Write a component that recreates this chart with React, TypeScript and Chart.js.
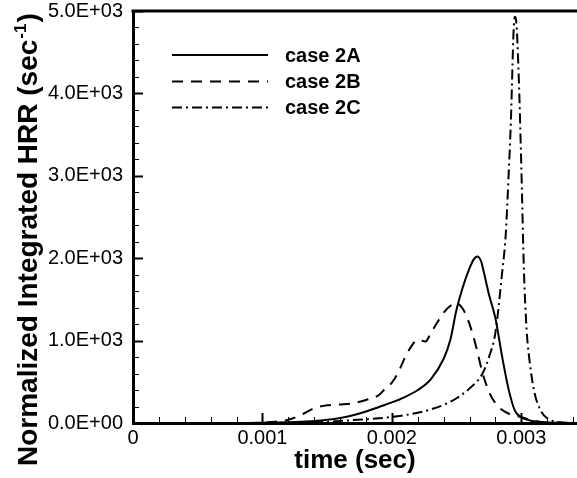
import React, { useEffect, useRef } from "react";
import { Chart, registerables } from "chart.js";

Chart.register(...registerables);

// ---- data ----
const timeA = [0, 0.0008, 0.001, 0.0011, 0.0012, 0.0013, 0.0014, 0.0015, 0.0016, 0.0017, 0.0018, 0.0019, 0.002, 0.0021, 0.0022, 0.0023, 0.0024, 0.00245, 0.0025, 0.00255, 0.0026, 0.00263, 0.00266, 0.00269, 0.0027, 0.00275, 0.0028, 0.00285, 0.0029, 0.00295, 0.003, 0.0031, 0.0032, 0.0033, 0.00343];
const hrrA = [0, 0, 3, 6, 10, 16, 25, 40, 62, 95, 140, 195, 250, 315, 400, 530, 780, 1000, 1380, 1660, 1880, 1980, 2020, 1960, 1900, 1560, 1270, 820, 420, 150, 70, 20, 5, 0, 0];

const timeB = [0, 0.0009, 0.001, 0.0011, 0.0012, 0.0013, 0.0014, 0.0015, 0.0016, 0.0017, 0.0018, 0.0019, 0.00195, 0.002, 0.00205, 0.0021, 0.00215, 0.0022, 0.00226, 0.0023, 0.00235, 0.0024, 0.00245, 0.0025, 0.00255, 0.0026, 0.00265, 0.0027, 0.00275, 0.0028, 0.00285, 0.0029, 0.003, 0.0031, 0.0032, 0.00343];
const hrrB = [0, 0, 5, 15, 40, 100, 180, 215, 225, 240, 280, 340, 420, 490, 620, 790, 930, 1010, 990, 1090, 1220, 1340, 1420, 1455, 1380, 1200, 930, 610, 380, 240, 160, 115, 70, 25, 5, 0];

const timeC = [0, 0.0012, 0.0013, 0.0014, 0.0015, 0.0016, 0.0017, 0.0018, 0.0019, 0.002, 0.0021, 0.0022, 0.0023, 0.0024, 0.0025, 0.0026, 0.0027, 0.00275, 0.0028, 0.00285, 0.00288, 0.0029, 0.00292, 0.00294, 0.00295, 0.00296, 0.00298, 0.003, 0.00302, 0.00304, 0.00306, 0.0031, 0.00315, 0.0032, 0.0033, 0.00343];
const hrrC = [0, 0, 3, 8, 15, 25, 35, 45, 57, 75, 95, 125, 165, 220, 300, 420, 600, 800, 1100, 1800, 2300, 2950, 3700, 4750, 4930, 4880, 4200, 3100, 1850, 1150, 800, 380, 150, 57, 10, 0];

const seriesNames = ["case 2A", "case 2B", "case 2C"];

const xTickValues = [0, 0.001, 0.002, 0.003];
const xTickLabels = ["0", "0.001", "0.002", "0.003"];
const yTickValues = [0, 1000, 2000, 3000, 4000, 5000];
const yTickLabels = ["0.0E+00", "1.0E+03", "2.0E+03", "3.0E+03", "4.0E+03", "5.0E+03"];

const xTitle = "time (sec)";
const yTitleMain = "Normalized Integrated HRR (sec";
const yTitleSup = "-1";
const yTitleEnd = ")";

const X_MIN = 0;
const X_MAX = 0.00343;
const Y_MIN = 0;
const Y_MAX = 5000;

const FONT = "'Liberation Sans', Arial, Helvetica, sans-serif";

const dashes: number[][] = [[], [11, 8], [10, 4, 2, 4]];

function labelFor(values: number[], labels: string[], v: number) {
  for (let i = 0; i < values.length; i++) {
    if (Math.abs(values[i] - v) < 1e-9 * Math.max(1, Math.abs(v)) + 1e-12) return labels[i];
  }
  return "";
}

const framePlugin = {
  id: "frameTicksLegend",
  afterDraw(chart: any) {
    const { ctx, chartArea } = chart;
    const xs = chart.scales.x;
    const ys = chart.scales.y;
    ctx.save();
    ctx.strokeStyle = "#000";
    ctx.fillStyle = "#000";
    // top frame
    ctx.lineWidth = 3;
    ctx.beginPath();
    ctx.moveTo(chartArea.left - 1.5, chartArea.top);
    ctx.lineTo(chartArea.right, chartArea.top);
    ctx.stroke();
    // inward y ticks
    for (let k = 0; k <= 25; k++) {
      const v = k * 200;
      const py = Math.round(ys.getPixelForValue(v)) + 0.5;
      const major = k % 5 === 0;
      ctx.lineWidth = major ? 2 : 1;
      ctx.beginPath();
      ctx.moveTo(chartArea.left, py);
      ctx.lineTo(chartArea.left + (major ? 10 : 6), py);
      ctx.stroke();
    }
    // inward x ticks
    for (let k = 0; k <= 20; k++) {
      const t = k * 0.0002;
      if (t > X_MAX) break;
      const px = Math.round(xs.getPixelForValue(t)) + 0.5;
      const major = k % 5 === 0;
      ctx.lineWidth = major ? 2 : 1;
      ctx.beginPath();
      ctx.moveTo(px, chartArea.bottom);
      ctx.lineTo(px, chartArea.bottom - (major ? 10 : 6));
      ctx.stroke();
    }
    // legend
    const rows = [55, 81.5, 107.5];
    ctx.font = `bold 20px ${FONT}`;
    ctx.textBaseline = "middle";
    ctx.textAlign = "left";
    chart.data.datasets.forEach((ds: any, i: number) => {
      const y = rows[i];
      ctx.lineWidth = 2;
      ctx.setLineDash(dashes[i]);
      ctx.beginPath();
      ctx.moveTo(172, y);
      ctx.lineTo(268, y);
      ctx.stroke();
      ctx.setLineDash([]);
      ctx.fillText(ds.label, 285, y + 1);
    });
    // y-axis title with superscript
    ctx.translate(37, 466);
    ctx.rotate(-Math.PI / 2);
    ctx.textBaseline = "alphabetic";
    ctx.font = `bold 28px ${FONT}`;
    ctx.fillText(yTitleMain, 0, 0);
    let w = ctx.measureText(yTitleMain).width;
    ctx.font = `bold 17px ${FONT}`;
    ctx.fillText(yTitleSup, w + 1, -11);
    w += ctx.measureText(yTitleSup).width + 2;
    ctx.font = `bold 28px ${FONT}`;
    ctx.fillText(yTitleEnd, w, 0);
    ctx.restore();
  },
};

export default function App() {
  const ref = useRef<HTMLCanvasElement | null>(null);

  useEffect(() => {
    document.body.style.margin = "0";
    const canvas = ref.current;
    if (!canvas) return;
    const mk = (t: number[], v: number[]) => t.map((x, i) => ({ x, y: v[i] }));
    const sets = [mk(timeA, hrrA), mk(timeB, hrrB), mk(timeC, hrrC)];
    const chart = new Chart(canvas, {
      type: "line",
      data: {
        datasets: sets.map((d, i) => ({
          label: seriesNames[i],
          data: d,
          borderColor: "#000",
          backgroundColor: "#000",
          borderWidth: 2,
          borderDash: dashes[i],
          pointRadius: 0,
          fill: false,
          cubicInterpolationMode: "monotone" as const,
        })),
      },
      options: {
        animation: false,
        responsive: false,
        maintainAspectRatio: false,
        layout: { padding: { top: 11, right: 0, left: 0, bottom: 0 } },
        plugins: { legend: { display: false }, tooltip: { enabled: false } },
        scales: {
          x: {
            type: "linear",
            min: X_MIN,
            max: X_MAX,
            afterFit: (s: any) => { s.height = 55; s.paddingRight = 0; },
            grid: { display: false, drawTicks: false },
            border: { display: true, color: "#000", width: 3 },
            ticks: {
              stepSize: 0.001,
              includeBounds: false,
              padding: 4,
              color: "#000",
              font: { family: FONT, size: 20, lineHeight: 1.1 },
              maxRotation: 0,
              autoSkip: false,
              callback: (v: any) => labelFor(xTickValues, xTickLabels, Number(v)),
            },
            title: {
              display: true,
              text: xTitle,
              color: "#000",
              font: { family: FONT, size: 26, weight: "bold", lineHeight: 1.2 },
              padding: { top: 0, bottom: 2 },
            },
          },
          y: {
            type: "linear",
            min: Y_MIN,
            max: Y_MAX,
            afterFit: (s: any) => { s.width = 133; s.paddingTop = 11; s.paddingBottom = 0; },
            grid: { display: false, drawTicks: false },
            border: { display: true, color: "#000", width: 3 },
            ticks: {
              stepSize: 1000,
              padding: 10,
              color: "#000",
              font: { family: FONT, size: 20, lineHeight: 1.1 },
              callback: (v: any) => labelFor(yTickValues, yTickLabels, Number(v)),
            },
          },
        },
      },
      plugins: [framePlugin],
    });
    return () => chart.destroy();
  }, []);

  return (
    <div style={{ width: 577, height: 478, background: "#fff" }}>
      <canvas ref={ref} width={577} height={478} style={{ display: "block", width: 577, height: 478 }} />
    </div>
  );
}
